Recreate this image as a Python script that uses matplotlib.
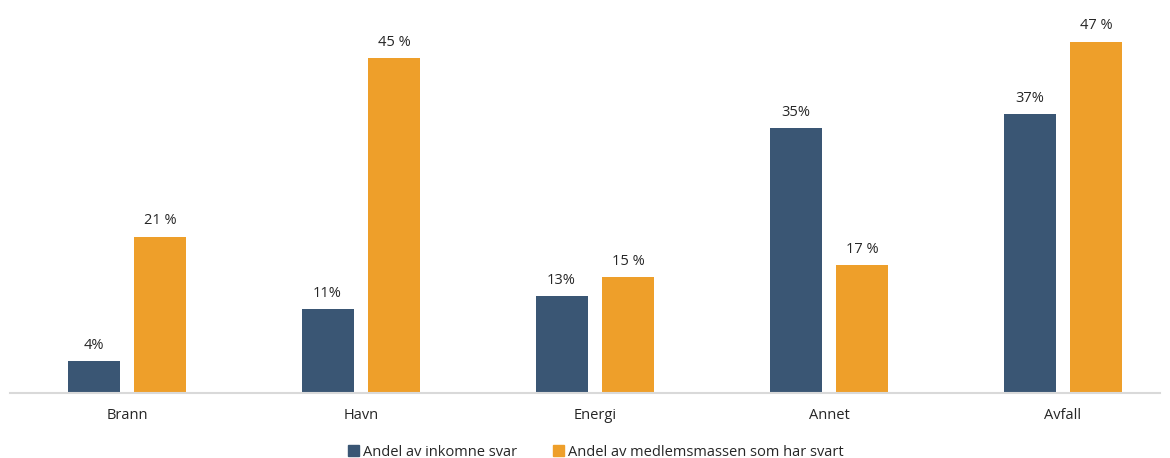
import numpy as np
import matplotlib.pyplot as plt
from matplotlib.patches import Patch

plt.rcParams['font.family'] = ['Open Sans', 'DejaVu Sans']

categories = ["Brann", "Havn", "Energi", "Annet", "Avfall"]
# bar heights (labels are the rounded figures)
inkomne = [4.3, 11.3, 13.0, 35.6, 37.5]
medlem = [21.0, 45.0, 15.6, 17.2, 47.2]
inkomne_labels = ["4%", "11%", "13%", "35%", "37%"]
medlem_labels = ["21 %", "45 %", "15 %", "17 %", "47 %"]

blue = "#3A5674"
orange = "#EE9F2A"

fig = plt.figure(figsize=(11.7, 4.58), dpi=100)
W, H = 1170, 458
ax = fig.add_axes([10 / W, (H - 393) / H, 1150 / W, (393 - 21) / H])

x = np.arange(len(categories))
w = 0.222
off = 0.143
b1 = ax.bar(x - off, inkomne, w, color=blue)
b2 = ax.bar(x + off, medlem, w, color=orange)

for rect, lab in zip(b1, inkomne_labels):
    ax.annotate(lab, (rect.get_x() + rect.get_width() / 2, rect.get_height()),
                xytext=(0, 6), textcoords="offset points", ha="center", va="bottom",
                fontsize=10.5, color="#262626")
for rect, lab in zip(b2, medlem_labels):
    ax.annotate(lab, (rect.get_x() + rect.get_width() / 2, rect.get_height()),
                xytext=(0, 6), textcoords="offset points", ha="center", va="bottom",
                fontsize=10.5, color="#262626")

ax.set_xlim(-0.5, -0.5 + 1150 / 234)
ax.set_ylim(0, 50)
ax.set_xticks(x)
ax.set_xticklabels(categories, fontsize=10.5, color="#262626")
ax.tick_params(axis="x", length=0, pad=11)
ax.set_yticks([])
for s in ["top", "right", "left"]:
    ax.spines[s].set_visible(False)
ax.spines["bottom"].set_color("#D9D9D9")
ax.spines["bottom"].set_linewidth(1.5)

handles = [Patch(color=blue, label="Andel av inkomne svar"),
           Patch(color=orange, label="Andel av medlemsmassen som har svart")]
fig.legend(handles=handles, loc="center", bbox_to_anchor=(596 / W, 1 - 452 / H),
           ncol=2, frameon=False, fontsize=10.5, handlelength=0.7, handleheight=0.7,
           handletextpad=0.3, columnspacing=2.5, labelcolor="#262626")

fig.savefig("out.png", dpi=100)
